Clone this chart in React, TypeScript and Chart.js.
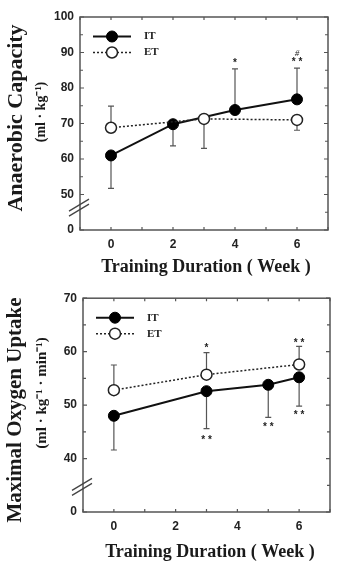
import React, { useEffect, useRef } from 'react';
import { Chart, registerables } from 'chart.js';

Chart.register(...registerables);

// ---------- shared ----------
const weekTicks = [0, 2, 4, 6];
const seriesNames = ['IT', 'ET'];

// ---------- top panel: Anaerobic Capacity ----------
const capWeeksIT = [0, 2, 4, 6];
const capIT = [61.0, 69.8, 73.8, 76.8];
const capSdIT = [9.3, 6.1, 11.6, 8.8];
const capDirIT = [-1, -1, 1, 1];
const capWeeksET = [0, 3, 6];
const capET = [68.8, 71.3, 71.0];
const capSdET = [6.1, 8.3, 2.9];
const capDirET = [1, -1, -1];
const capTicks = [40, 50, 60, 70, 80, 90, 100];
const capTickLabels = ['0', '50', '60', '70', '80', '90', '100'];
const capMarkX = [4, 6, 6];
const capMarkY = [87.4, 87.9, 89.8];
const capMarkText = ['*', '**', '#'];

// ---------- bottom panel: Maximal Oxygen Uptake ----------
const vo2WeeksIT = [0, 3, 5, 6];
const vo2IT = [48.0, 52.6, 53.8, 55.2];
const vo2SdIT = [6.4, 7.0, 6.1, 5.4];
const vo2DirIT = [-1, -1, -1, -1];
const vo2WeeksET = [0, 3, 6];
const vo2ET = [52.8, 55.7, 57.6];
const vo2SdET = [4.7, 4.1, 3.4];
const vo2DirET = [1, 1, 1];
const vo2Ticks = [30, 40, 50, 60, 70];
const vo2TickLabels = ['0', '40', '50', '60', '70'];
const vo2MarkX = [3, 3, 5, 6, 6];
const vo2MarkY = [61.0, 43.8, 46.2, 62.0, 48.4];
const vo2MarkText = ['*', '**', '**', '**', '**'];

const SERIF = '"Liberation Serif", "Times New Roman", serif';
const SANS = '"Liberation Sans", Arial, sans-serif';

type Series = { name: string; weeks: number[]; values: number[]; sd: number[]; dir: number[]; filled: boolean };
type Panel = {
  series: Series[];
  yMin: number; yMax: number; yTicks: number[]; yLabels: string[];
  breakVal: number;
  marks: { x: number; y: number; t: string }[];
  area: { left: number; right: number; top: number; bottom: number };
  title: string; titleSize: number; titlePos: [number, number];
  sub: string; subSize: number; subPos: [number, number];
  xTitle: string; xTitlePos: [number, number];
};

const capPanel: Panel = {
  series: [
    { name: seriesNames[0], weeks: capWeeksIT, values: capIT, sd: capSdIT, dir: capDirIT, filled: true },
    { name: seriesNames[1], weeks: capWeeksET, values: capET, sd: capSdET, dir: capDirET, filled: false },
  ],
  yMin: 40, yMax: 100, yTicks: capTicks, yLabels: capTickLabels,
  breakVal: 46.3,
  marks: capMarkX.map((x, i) => ({ x, y: capMarkY[i], t: capMarkText[i] })),
  area: { left: 80, right: 12, top: 17, bottom: 55 },
  title: 'Anaerobic Capacity', titleSize: 22, titlePos: [16, 118],
  sub: '(ml · kg⁻¹)', subSize: 14, subPos: [41, 112],
  xTitle: 'Training Duration ( Week )', xTitlePos: [206, 267],
};

const vo2Panel: Panel = {
  series: [
    { name: seriesNames[0], weeks: vo2WeeksIT, values: vo2IT, sd: vo2SdIT, dir: vo2DirIT, filled: true },
    { name: seriesNames[1], weeks: vo2WeeksET, values: vo2ET, sd: vo2SdET, dir: vo2DirET, filled: false },
  ],
  yMin: 30, yMax: 70, yTicks: vo2Ticks, yLabels: vo2TickLabels,
  breakVal: 34.7,
  marks: vo2MarkX.map((x, i) => ({ x, y: vo2MarkY[i], t: vo2MarkText[i] })),
  area: { left: 83, right: 10, top: 13, bottom: 58 },
  title: 'Maximal Oxygen Uptake', titleSize: 21, titlePos: [16, 125],
  sub: '(ml · kg⁻¹ · min⁻¹)', subSize: 15, subPos: [42, 108],
  xTitle: 'Training Duration ( Week )', xTitlePos: [210, 267],
};

function drawSeriesStyle(ctx: CanvasRenderingContext2D, s: Series) {
  ctx.strokeStyle = s.filled ? '#111' : '#222';
  ctx.lineWidth = s.filled ? 2 : 1.5;
  ctx.setLineDash(s.filled ? [] : [2, 2]);
}

function makeDecor(p: Panel) {
  return {
    id: 'decor',
    beforeDatasetsDraw(chart: any) {
      const ctx: CanvasRenderingContext2D = chart.ctx;
      const xs = chart.scales.x;
      const ys = chart.scales.y;
      ctx.save();
      ctx.strokeStyle = '#555';
      ctx.lineWidth = 1.2;
      p.series.forEach((s) => {
        s.weeks.forEach((w, i) => {
          const x = xs.getPixelForValue(w);
          const y0 = ys.getPixelForValue(s.values[i]);
          const y1 = ys.getPixelForValue(s.values[i] + s.dir[i] * s.sd[i]);
          ctx.beginPath();
          ctx.moveTo(x, y0);
          ctx.lineTo(x, y1);
          ctx.moveTo(x - 3, y1);
          ctx.lineTo(x + 3, y1);
          ctx.stroke();
        });
      });
      ctx.restore();
    },
    afterDraw(chart: any) {
      const ctx: CanvasRenderingContext2D = chart.ctx;
      const xs = chart.scales.x;
      const ys = chart.scales.y;
      const { left, right, top, bottom } = chart.chartArea;
      ctx.save();
      // frame
      ctx.strokeStyle = '#555';
      ctx.lineWidth = 1.5;
      ctx.strokeRect(left, top, right - left, bottom - top);
      // inward ticks
      ctx.lineWidth = 1.2;
      ctx.beginPath();
      for (let v = p.yMin; v <= p.yMax; v += 5) {
        const y = ys.getPixelForValue(v);
        const len = v % 10 === 0 ? 4 : 3;
        if (Math.abs(v - p.breakVal) > 3) {
          ctx.moveTo(left, y);
          ctx.lineTo(left + len, y);
        }
        ctx.moveTo(right, y);
        ctx.lineTo(right - len, y);
      }
      for (let w = xs.min; w <= xs.max; w += 1) {
        const x = xs.getPixelForValue(w);
        ctx.moveTo(x, bottom);
        ctx.lineTo(x, bottom - 3);
        ctx.moveTo(x, top);
        ctx.lineTo(x, top + 3);
      }
      ctx.stroke();
      // axis break
      const by = ys.getPixelForValue(p.breakVal);
      ctx.strokeStyle = '#444';
      ctx.lineWidth = 1.3;
      ctx.beginPath();
      for (const off of [-2.5, 2.5]) {
        ctx.moveTo(left - 11, by + 6 + off);
        ctx.lineTo(left + 9, by - 6 + off);
      }
      ctx.stroke();
      // significance marks
      ctx.fillStyle = '#222';
      ctx.textAlign = 'center';
      ctx.textBaseline = 'middle';
      p.marks.forEach((m) => {
        ctx.font = m.t === '#' ? `italic 9px ${SERIF}` : `bold 10px ${SANS}`;
        const x = xs.getPixelForValue(m.x);
        const y = ys.getPixelForValue(m.y) + (m.t === '#' ? 0 : 2);
        ctx.fillText(m.t.split('').join(' '), x, y);
      });
      // legend
      p.series.forEach((s, i) => {
        const ry = top + 19.5 + i * 16;
        ctx.save();
        drawSeriesStyle(ctx, s);
        ctx.beginPath();
        ctx.moveTo(left + 13, ry);
        ctx.lineTo(left + 51, ry);
        ctx.stroke();
        ctx.setLineDash([]);
        ctx.beginPath();
        ctx.arc(left + 32, ry, 5.5, 0, Math.PI * 2);
        ctx.fillStyle = s.filled ? '#000' : '#fff';
        ctx.fill();
        ctx.lineWidth = s.filled ? 1 : 1.5;
        ctx.strokeStyle = s.filled ? '#000' : '#222';
        ctx.stroke();
        ctx.restore();
        ctx.fillStyle = '#222';
        ctx.font = `bold 11px ${SERIF}`;
        ctx.textAlign = 'left';
        ctx.textBaseline = 'middle';
        ctx.fillText(s.name, left + 64, ry);
      });
      // titles
      ctx.fillStyle = '#1a1a1a';
      ctx.textAlign = 'center';
      ctx.textBaseline = 'middle';
      ctx.font = `bold ${p.titleSize}px ${SERIF}`;
      ctx.save();
      ctx.translate(p.titlePos[0], p.titlePos[1]);
      ctx.rotate(-Math.PI / 2);
      ctx.fillText(p.title, 0, 0);
      ctx.restore();
      ctx.font = `bold ${p.subSize}px ${SERIF}`;
      ctx.save();
      ctx.translate(p.subPos[0], p.subPos[1]);
      ctx.rotate(-Math.PI / 2);
      ctx.fillText(p.sub, 0, 0);
      ctx.restore();
      ctx.font = `bold 18px ${SERIF}`;
      ctx.fillText(p.xTitle, p.xTitlePos[0], p.xTitlePos[1]);
      ctx.restore();
    },
  };
}

function ChartPanel({ panel }: { panel: Panel }) {
  const ref = useRef<HTMLCanvasElement | null>(null);
  useEffect(() => {
    if (!ref.current) return;
    const p = panel;
    const chart = new Chart(ref.current, {
      type: 'line',
      data: {
        datasets: p.series.map((s) => ({
          label: s.name,
          data: s.weeks.map((w, i) => ({ x: w, y: s.values[i] })),
          borderColor: s.filled ? '#111' : '#222',
          borderWidth: s.filled ? 2 : 1.5,
          borderDash: s.filled ? [] : [2, 2],
          backgroundColor: s.filled ? '#000' : '#fff',
          pointBackgroundColor: s.filled ? '#000' : '#fff',
          pointBorderColor: s.filled ? '#000' : '#222',
          pointBorderWidth: s.filled ? 1 : 1.5,
          pointRadius: 5.5,
          tension: 0,
          fill: false,
          order: s.filled ? 1 : 0,
        })),
      },
      options: {
        animation: false,
        responsive: false,
        maintainAspectRatio: false,
        layout: { padding: { left: 0, right: p.area.right, top: p.area.top, bottom: 0 } },
        plugins: { legend: { display: false }, tooltip: { enabled: false } },
        scales: {
          x: {
            type: 'linear',
            min: -1,
            max: 7,
            afterBuildTicks: (s: any) => { s.ticks = weekTicks.map((v) => ({ value: v })); },
            afterFit: (s: any) => { s.height = p.area.bottom; },
            grid: { display: false, drawTicks: false },
            border: { display: false },
            ticks: {
              padding: 7,
              color: '#222',
              font: { family: SANS, size: 12, weight: 'bold' },
              autoSkip: false,
              maxRotation: 0,
              callback: (v: any) => String(v),
            },
          },
          y: {
            type: 'linear',
            min: p.yMin,
            max: p.yMax,
            afterBuildTicks: (s: any) => { s.ticks = p.yTicks.map((v) => ({ value: v })); },
            afterFit: (s: any) => { s.width = p.area.left; },
            grid: { display: false, drawTicks: false },
            border: { display: false },
            ticks: {
              padding: 6,
              color: '#222',
              font: { family: SANS, size: 12, weight: 'bold' },
              autoSkip: false,
              callback: (v: any) => p.yLabels[p.yTicks.indexOf(Number(v))] ?? '',
            },
          },
        },
      },
      plugins: [makeDecor(p)],
    } as any);
    return () => chart.destroy();
  }, [panel]);
  return <canvas ref={ref} width={340} height={285} style={{ display: 'block', width: 340, height: 285 }} />;
}

export default function App() {
  return (
    <div style={{ position: 'absolute', left: 0, top: 0, width: 340, height: 570, background: '#fff' }}>
      <ChartPanel panel={capPanel} />
      <ChartPanel panel={vo2Panel} />
    </div>
  );
}
